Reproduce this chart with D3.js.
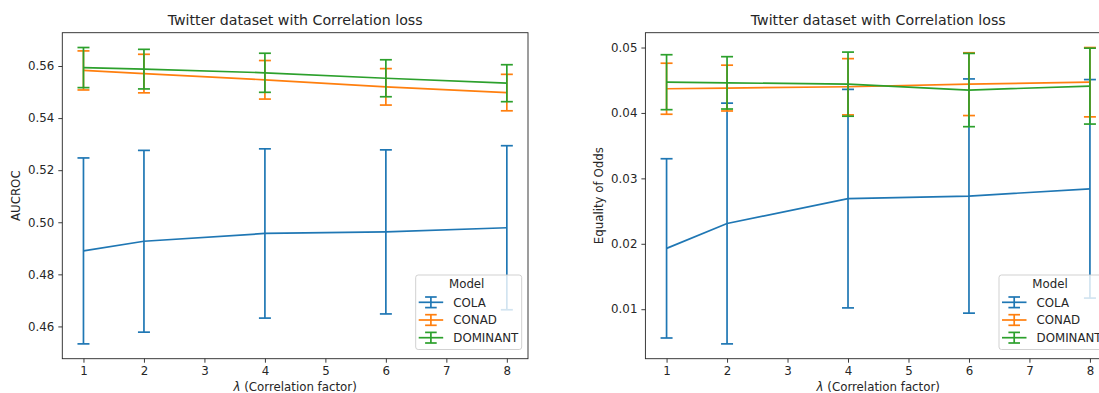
<!DOCTYPE html>
<html>
<head>
<meta charset="utf-8">
<script src="https://cdn.jsdelivr.net/npm/d3@7"></script>
<style>
  html, body { margin: 0; padding: 0; background: #fff; }
  svg { display: block; font-family: "DejaVu Sans", sans-serif; }
</style>
</head>
<body>
<div id="chart"></div>
<script>
// lambda values on the x axis
const lambdas = [1, 2, 4, 6, 8];
const xTicks = [1, 2, 3, 4, 5, 6, 7, 8];
const models = ['COLA', 'CONAD', 'DOMINANT'];
const colors = ['#1f77b4', '#ff7f0e', '#2ca02c'];

// AUCROC (mean, std)
const colaAuc = [0.4890, 0.4927, 0.4957, 0.4963, 0.4979];
const colaAucErr = [0.0357, 0.0349, 0.0325, 0.0315, 0.0315];
const conadAuc = [0.5583, 0.5571, 0.5547, 0.5520, 0.5498];
const conadAucErr = [0.0075, 0.0074, 0.0074, 0.0070, 0.0070];
const dominantAuc = [0.5594, 0.5588, 0.5574, 0.5553, 0.5534];
const dominantAucErr = [0.0077, 0.0076, 0.0075, 0.0071, 0.0071];

// Equality of odds (mean, std)
const colaEo = [0.0193, 0.0231, 0.0269, 0.0273, 0.0284];
const colaEoErr = [0.0137, 0.0184, 0.0167, 0.0179, 0.0167];
const conadEo = [0.0437, 0.0438, 0.0440, 0.0444, 0.0447];
const conadEoErr = [0.0039, 0.0035, 0.0043, 0.0048, 0.0053];
const dominantEo = [0.0447, 0.0446, 0.0444, 0.0435, 0.0441];
const dominantEoErr = [0.0042, 0.0040, 0.0049, 0.0056, 0.0058];

const aucTicks = [0.46, 0.48, 0.50, 0.52, 0.54, 0.56];
const eoTicks = [0.01, 0.02, 0.03, 0.04, 0.05];

const W = 1099, H = 393;
const svg = d3.select('#chart').append('svg')
  .attr('width', W)
  .attr('height', H);

const textColor = '#262626';
const fontSize = '11.8px';
const lw = 1.7;

function drawPanel(opts) {
  const { left, top, width, height, title, yLabel, series, yTicks, legendX } = opts;

  const g = svg.append('g').attr('transform', `translate(${left},${top})`);

  // matplotlib-style 5% margins
  const xScale = d3.scaleLinear().domain([1 - 0.35, 8 + 0.35]).range([0, width]);
  const lo = d3.min(series, s => d3.min(s.mean, (m, i) => m - s.err[i]));
  const hi = d3.max(series, s => d3.max(s.mean, (m, i) => m + s.err[i]));
  const pad = (hi - lo) * 0.05;
  const yScale = d3.scaleLinear().domain([lo - pad, hi + pad]).range([height, 0]);

  const line = d3.line()
    .x((d, i) => xScale(lambdas[i]))
    .y(d => yScale(d));

  series.forEach(s => {
    const sg = g.append('g');
    sg.append('path')
      .datum(s.mean)
      .attr('fill', 'none')
      .attr('stroke', s.color)
      .attr('stroke-width', lw)
      .attr('d', line);
    // error bars with caps
    s.mean.forEach((m, i) => {
      const x = xScale(lambdas[i]);
      const y1 = yScale(m + s.err[i]);
      const y2 = yScale(m - s.err[i]);
      sg.append('line')
        .attr('x1', x).attr('x2', x)
        .attr('y1', y1).attr('y2', y2)
        .attr('stroke', s.color)
        .attr('stroke-width', lw);
      [y1, y2].forEach(yc => {
        sg.append('line')
          .attr('x1', x - 6).attr('x2', x + 6)
          .attr('y1', yc).attr('y2', yc)
          .attr('stroke', s.color)
          .attr('stroke-width', lw);
      });
    });
  });

  const xAxis = d3.axisBottom(xScale).tickValues(xTicks).tickSize(4).tickPadding(4).tickFormat(d3.format('d'));
  const yAxis = d3.axisLeft(yScale).tickValues(yTicks).tickSize(4).tickPadding(4).tickFormat(d3.format('.2f'));

  const xg = g.append('g').attr('transform', `translate(0,${height})`).call(xAxis);
  const yg = g.append('g').call(yAxis);
  [xg, yg].forEach(ax => {
    ax.select('.domain').remove();
    ax.selectAll('.tick line').attr('stroke', textColor).attr('stroke-width', 0.9);
    ax.selectAll('.tick text')
      .attr('fill', textColor)
      .style('font-size', fontSize)
      .style('font-family', '"DejaVu Sans", sans-serif');
  });

  // frame
  g.append('rect')
    .attr('width', width)
    .attr('height', height)
    .attr('fill', 'none')
    .attr('stroke', textColor)
    .attr('stroke-width', 0.9);

  g.append('text')
    .attr('x', width / 2)
    .attr('y', -7.5)
    .attr('text-anchor', 'middle')
    .attr('fill', textColor)
    .style('font-size', '14.2px')
    .text(title);

  const xl = g.append('text')
    .attr('x', width / 2)
    .attr('y', height + 32)
    .attr('text-anchor', 'middle')
    .attr('fill', textColor)
    .style('font-size', fontSize);
  xl.append('tspan').style('font-style', 'italic').text('λ');
  xl.append('tspan').text(' (Correlation factor)');

  g.append('text')
    .attr('transform', `translate(${-42},${height / 2}) rotate(-90)`)
    .attr('text-anchor', 'middle')
    .attr('fill', textColor)
    .style('font-size', fontSize)
    .text(yLabel);

  // legend
  const lg = svg.append('g').attr('transform', `translate(${legendX},275)`);
  lg.append('rect')
    .attr('width', 106)
    .attr('height', 74.5)
    .attr('rx', 2.5)
    .attr('fill', 'rgba(255,255,255,0.8)')
    .attr('stroke', '#cccccc')
    .attr('stroke-width', 0.9);
  lg.append('text')
    .attr('x', 51)
    .attr('y', 13.3)
    .attr('text-anchor', 'middle')
    .attr('fill', textColor)
    .style('font-size', fontSize)
    .text('Model');
  series.forEach((s, k) => {
    const cy = 27.3 + k * 17.7;
    const eg = lg.append('g').attr('transform', `translate(0,${cy})`);
    eg.append('line').attr('x1', 3).attr('x2', 27.5).attr('y1', 0).attr('y2', 0)
      .attr('stroke', s.color).attr('stroke-width', lw);
    eg.append('line').attr('x1', 15.2).attr('x2', 15.2).attr('y1', -5.3).attr('y2', 5.3)
      .attr('stroke', s.color).attr('stroke-width', lw);
    [-5.3, 5.3].forEach(yc => {
      eg.append('line').attr('x1', 9.4).attr('x2', 21).attr('y1', yc).attr('y2', yc)
        .attr('stroke', s.color).attr('stroke-width', lw);
    });
    eg.append('text')
      .attr('x', 37.6)
      .attr('y', 4.3)
      .attr('fill', textColor)
      .style('font-size', fontSize)
      .text(s.name);
  });
}

drawPanel({
  left: 62.3, top: 32.7, width: 465.7, height: 326,
  title: 'Twitter dataset with Correlation loss',
  yLabel: 'AUCROC',
  yTicks: aucTicks,
  legendX: 415.7,
  series: [
    { name: models[0], color: colors[0], mean: colaAuc, err: colaAucErr },
    { name: models[1], color: colors[1], mean: conadAuc, err: conadAucErr },
    { name: models[2], color: colors[2], mean: dominantAuc, err: dominantAucErr }
  ]
});

drawPanel({
  left: 645.4, top: 32.7, width: 465.7, height: 326,
  title: 'Twitter dataset with Correlation loss',
  yLabel: 'Equality of Odds',
  yTicks: eoTicks,
  legendX: 999,
  series: [
    { name: models[0], color: colors[0], mean: colaEo, err: colaEoErr },
    { name: models[1], color: colors[1], mean: conadEo, err: conadEoErr },
    { name: models[2], color: colors[2], mean: dominantEo, err: dominantEoErr }
  ]
});
</script>
</body>
</html>
